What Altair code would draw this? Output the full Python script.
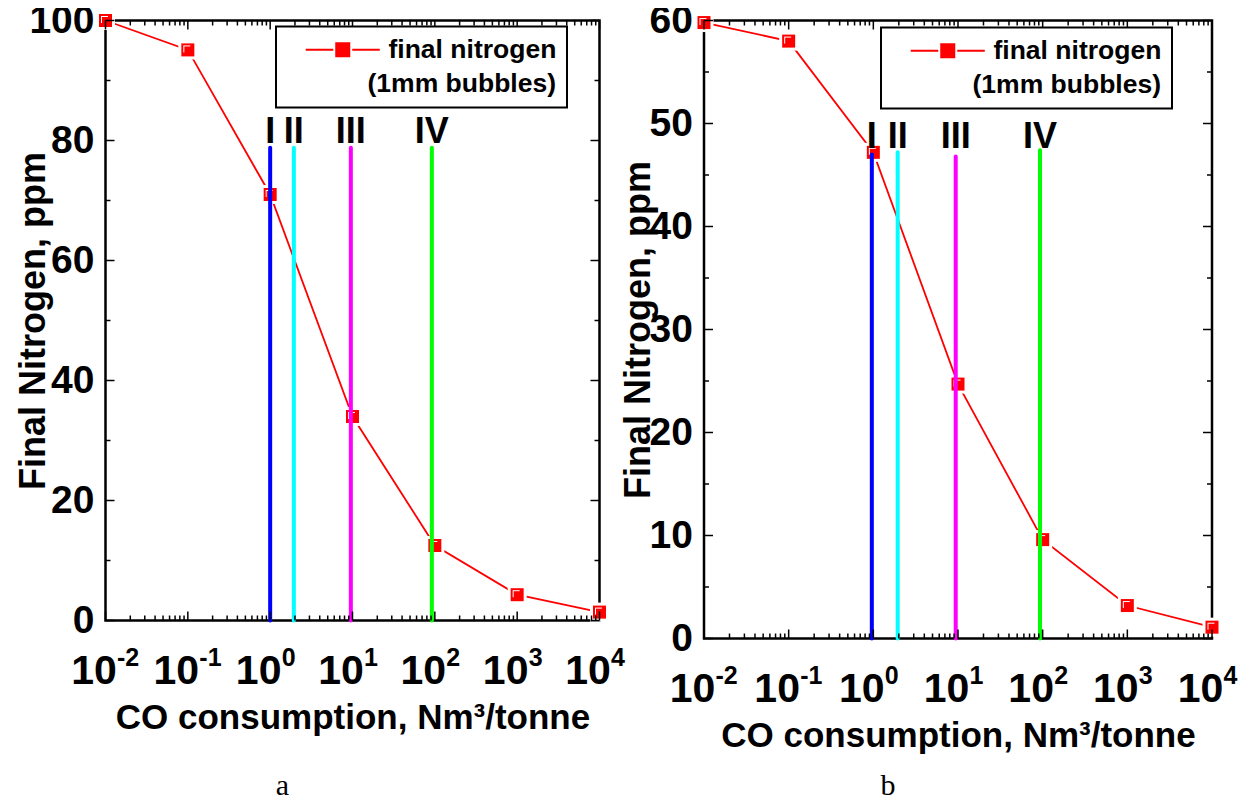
import altair as alt
import pandas as pd

# ---------------- data ----------------
co = [0.01, 0.1, 1, 10, 100, 1000, 10000]
n_a = [100, 95.1, 71.0, 34.0, 12.5, 4.3, 1.4]
n_b = [59.8, 58.0, 47.2, 24.7, 9.6, 3.2, 1.1]
series_name = "final nitrogen"
series_note = "(1mm bubbles)"

stage_labels = ["I", "II", "III", "IV"]
stage_colors = ["#0000ff", "#00ffff", "#ff00ff", "#00ff00"]
stage_co_a = [1.0, 1.94, 9.55, 92.0]
stage_top_a = [78.8, 78.8, 78.8, 78.8]
stage_lab_a = [79.6, 79.6, 79.6, 79.6]
stage_co_b = [0.96, 1.94, 9.4, 93.0]
stage_top_b = [47.0, 47.2, 46.8, 47.4]
stage_lab_b = [47.6, 47.6, 47.6, 47.6]

x_ticks = [0.01, 0.1, 1, 10, 100, 1000, 10000]
x_exps = ["-2", "-1", "0", "1", "2", "3", "4"]
minor_mult = [2, 3, 4, 5, 6, 7, 8, 9]
x_minor = [m * d for d in x_ticks[:-1] for m in minor_mult]

y_ticks_a = [0, 20, 40, 60, 80, 100]
y_minor_a = [10, 30, 50, 70, 90]
y_ticks_b = [0, 10, 20, 30, 40, 50, 60]
y_minor_b = [5, 15, 25, 35, 45, 55]

x_title = "CO consumption, Nm\u00b3/tonne"
y_title = "Final Nitrogen, ppm"
captions = ["a", "b"]

FONT = "Liberation Sans"
SERIF = "Liberation Serif"
LEG_SYMBOL = "M-5.7,0H-1.46M1.46,0H5.7M-1,-1H1V1H-1Z"


def panel(yvals, ymax, yticks, yminor, st_co, st_top, st_lab, W, H, cap, ytp, legx, legy):
    df = pd.DataFrame({"co": co, "n": yvals, "series": [series_name] * len(co)})
    xs = alt.Scale(type="log", domain=[0.01, 10000], nice=False)
    ys = alt.Scale(domain=[0, ymax], nice=False)
    base = alt.Chart(df)

    line = base.mark_line(color="red", strokeWidth=1.8).encode(
        x=alt.X("co:Q", scale=xs, title=x_title, axis=alt.Axis(
            values=x_ticks, labelExpr="'10'", title=x_title, labelOffset=-12,
            labelPadding=31, labelFontSize=41, minExtent=60, maxExtent=60,
            titlePadding=20, titleFontSize=35, labelFlush=False, labelOverlap=False)),
        y=alt.Y("n:Q", scale=ys, title=y_title, axis=alt.Axis(
            values=yticks, title=y_title, labelPadding=11.5, labelFontSize=39,
            minExtent=40, maxExtent=40, titlePadding=ytp, titleFontSize=36,
            labelFlush=False, labelOverlap=False)),
    )
    xe = alt.X("co:Q")
    ye = alt.Y("n:Q")
    halo = base.mark_square(size=361, color="white", opacity=1).encode(x=xe, y=ye)
    marker = base.mark_square(size=169, opacity=1).encode(
        x=xe, y=ye,
        color=alt.Color("series:N", scale=alt.Scale(domain=[series_name], range=["red"]),
                        legend=alt.Legend(
                            title=series_note, titleOrient="bottom", titleAnchor="end",
                            titleFont=FONT, titleFontSize=26.5, titleFontWeight="bold",
                            titleColor="black", titlePadding=7, titleLimit=400,
                            labelFont=FONT, labelFontSize=26.5, labelFontWeight="bold",
                            labelColor="black", labelOffset=32.5, labelLimit=400,
                            symbolType=LEG_SYMBOL, symbolSize=169, symbolStrokeColor="red",
                            symbolStrokeWidth=2, symbolOffset=43.5, symbolOpacity=1,
                            orient="none", legendX=legx, legendY=legy, padding=10,
                            strokeColor="black", fillColor="white")))
    hl = base.mark_square(size=49, color="white", opacity=1, xOffset=-1, yOffset=-1).encode(x=xe, y=ye)
    inner = base.mark_square(size=49, color="red", opacity=1).encode(x=xe, y=ye)

    st = pd.DataFrame({"co": st_co, "top": st_top, "ly": st_lab, "c": stage_colors,
                       "lab": stage_labels, "base": [0] * 4})
    rules = alt.Chart(st).mark_rule(strokeWidth=4, strokeCap="round").encode(
        x=xe, y=alt.Y("base:Q"), y2="top:Q", stroke=alt.Stroke("c:N", scale=None))
    labs = alt.Chart(st).mark_text(font=FONT, fontSize=36, fontWeight="bold",
                                   baseline="alphabetic", color="black").encode(
        x=xe, y=alt.Y("ly:Q"), text="lab:N")

    layers = [line, halo, marker, hl, inner, rules, labs]

    def xt(vals, L):
        c = alt.Chart(pd.DataFrame({"co": vals})).mark_rule(color="black", strokeWidth=1.5)
        return [c.encode(x=xe, y=alt.value(H), y2=alt.value(H - L)),
                c.encode(x=xe, y=alt.value(0), y2=alt.value(L))]

    def yt(vals, L):
        c = alt.Chart(pd.DataFrame({"n": vals})).mark_rule(color="black", strokeWidth=1.5)
        return [c.encode(y=ye, x=alt.value(0), x2=alt.value(L)),
                c.encode(y=ye, x=alt.value(W), x2=alt.value(W - L))]

    layers += xt(x_ticks, 9) + xt(x_minor, 5) + yt(yticks, 9) + yt(yminor, 5)

    exps = alt.Chart(pd.DataFrame({"co": x_ticks, "e": x_exps})).mark_text(
        font=FONT, fontSize=25, fontWeight="bold", align="left", baseline="alphabetic",
        dx=11.5, color="black").encode(x=xe, y=alt.value(H + 45), text="e:N")
    capl = alt.Chart(pd.DataFrame({"cap": [cap]})).mark_text(
        font=SERIF, fontSize=30, baseline="alphabetic", color="black").encode(
        x=alt.value(W / 2 - 70), y=alt.value(774), text="cap:N")
    layers += [exps, capl]

    return alt.layer(*layers).properties(width=W, height=H)


left = panel(n_a, 100, y_ticks_a, y_minor_a, stage_co_a, stage_top_a, stage_lab_a,
             494, 600, captions[0], 13, 170.5, 6)
right = panel(n_b, 60, y_ticks_b, y_minor_b, stage_co_b, stage_top_b, stage_lab_b,
              508, 618, captions[1], 7, 177, 7)

chart = alt.hconcat(left, right, spacing=104.5, bounds="flush").resolve_scale(
    x="independent", y="independent", color="independent").resolve_legend(
    color="independent").properties(
    padding={"left": 5.5, "top": -8.5, "right": 2, "bottom": 0}
).configure_view(stroke="black", strokeWidth=2.5).configure_axis(
    labelFont=FONT, labelFontWeight="bold", labelColor="black",
    titleFont=FONT, titleFontWeight="bold", titleColor="black",
    ticks=False, tickSize=0, domain=False, grid=False
).configure_legend(strokeWidth=2)

chart.save("out.html", embed_options={"renderer": "svg", "actions": False})
